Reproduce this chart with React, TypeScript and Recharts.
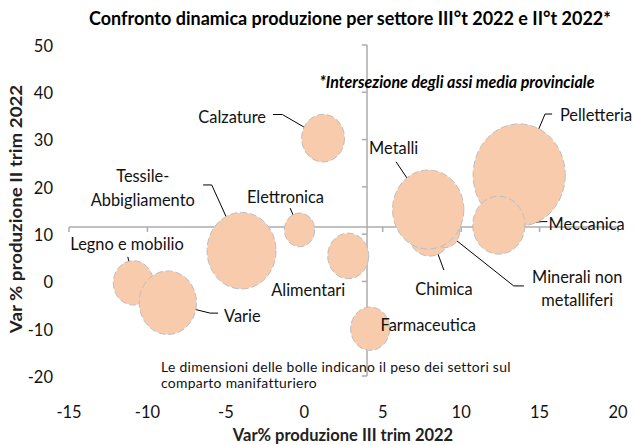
import React from 'react'
import { ScatterChart, Scatter, XAxis, YAxis, ZAxis, ReferenceLine, ReferenceDot } from 'recharts'

const FONT = 'Lato, "Open Sans", sans-serif'
const STRETCH = 1.1 // the original picture is slightly stretched vertically

// draw order: later sectors sit on top of earlier ones
const sectors = ['Legno e mobilio', 'Varie', 'Tessile-Abbigliamento', 'Elettronica', 'Calzature', 'Alimentari', 'Farmaceutica', 'Chimica', 'Minerali non metalliferi', 'Metalli', 'Pelletteria', 'Meccanica']
const varIIIt = [-10.9, -8.7, -4.0, -0.3, 1.2, 2.8, 4.2, 8.0, 9.0, 7.9, 13.7, 12.4]
const varIIt = [-0.3, -4.5, 6.5, 10.9, 30.3, 5.4, -10.0, 10.5, 10.5, 15.2, 22.5, 11.9]
const weights = [4.0, 8.2, 11.9, 2.3, 4.6, 4.2, 3.8, 4.8, 2.0, 12.7, 21.2, 6.8]

const labelLines = [['Legno e mobilio'], ['Varie'], ['Tessile-', 'Abbigliamento'], ['Elettronica'], ['Calzature'], ['Alimentari'], ['Farmaceutica'], ['Chimica'], ['Minerali non', 'metalliferi'], ['Metalli'], ['Pelletteria'], ['Meccanica']]
const labelX = [-11.3, -3.95, -10.3, -1.2, -4.6, 0.25, 7.9, 8.9, 17.4, 5.7, 18.6, 18.0]
const labelY = [8.1, -7.1, 19.9, 18.1, 35.0, -1.65, -9.0, -1.45, -1.28, 28.3, 35.4, 12.4]
// leader line points on the label side; the line then runs to the bubble centre
const leaderFrom: number[][][] = [
  [[-11.25, 5.2]],
  [[-5.5, -6.7], [-6.0, -6.7]],
  [[-6.45, 20.4], [-5.9, 20.4]],
  [[-0.9, 15.5]],
  [[-2.0, 35.3], [-1.4, 35.3]],
  [],
  [],
  [[8.9, 2.4]],
  [[14.0, -0.95], [13.35, -0.95]],
  [[5.85, 25.3]],
  [[15.8, 35.4], [15.35, 35.4]],
  [[15.5, 12.65], [15.15, 12.65]],
]

// provincial mean = axes intersection
const meanX = 4.0
const meanY = 11.5

const xTicks = [-15, -10, -5, 0, 5, 10, 15, 20]
const yTicks = [-20, -10, 0, 10, 20, 30, 40, 50]

const Bubble = (p: any) => {
  const r = p.width ? p.width / 2 : Math.sqrt(p.size / Math.PI)
  return (
    <ellipse cx={p.cx} cy={p.cy} rx={r} ry={r * 1.11}
      fill="#f8cbad" stroke="#bdbdbd" strokeWidth={1} strokeDasharray="7 3" />
  )
}

const makeLabel = (lines: string[]) => (p: any) => (
  <g transform={`translate(${p.cx},${p.cy}) scale(1,${STRETCH})`}>
    <text textAnchor="middle" fontFamily={FONT} fontSize={16.4} fill="#111">
      {lines.map((l, i) => (
        <tspan key={i} x={0} y={(i - (lines.length - 1) / 2) * 23.5 / STRETCH} dominantBaseline="central">{l}</tspan>
      ))}
    </text>
  </g>
)

const Tick = (p: any) => (
  <g transform={`translate(${p.x},${p.y}) scale(1,${STRETCH})`}>
    <text textAnchor={p.textAnchor} fontFamily={FONT} fontSize={16.5} fill="#111" dominantBaseline="central">
      {p.payload.value}
    </text>
  </g>
)

const sy = `scale(1, ${STRETCH})`

export default function App() {
  const data = sectors.map((name, i) => ({ name, x: varIIIt[i], y: varIIt[i], z: weights[i] }))
  const leaders = sectors.flatMap((_, i) => {
    const pts = [...leaderFrom[i], [varIIIt[i], varIIt[i]]]
    return pts.slice(1).map((b, j) => ({ key: `${i}-${j}`, a: pts[j], b }))
  })

  return (
    <div style={{ position: 'absolute', left: 0, top: 0, width: 634, height: 445, background: '#fff', fontFamily: FONT }}>
      <ScatterChart width={634} height={445} margin={{ top: 45, right: 16, bottom: 29, left: 9 }}>
        <XAxis type="number" dataKey="x" domain={[-15, 20]} ticks={xTicks} axisLine={false} tickLine={false}
          tickSize={0} tickMargin={35} height={40} tick={<Tick />} />
        <YAxis type="number" dataKey="y" domain={[-20, 50]} ticks={yTicks} axisLine={false} tickLine={false}
          tickSize={0} tickMargin={16} width={60} tick={<Tick />} />
        <ZAxis type="number" dataKey="z" domain={[0, 25]} range={[0, Math.PI * 100 * 25]} />

        <ReferenceLine x={meanX} stroke="#adadad" strokeWidth={1.5} />
        <ReferenceLine y={meanY} stroke="#adadad" strokeWidth={1.5} />
        {yTicks.map(t => (
          <ReferenceLine key={'yt' + t} segment={[{ x: meanX - 0.33, y: t }, { x: meanX, y: t }]} stroke="#adadad" strokeWidth={1.5} />
        ))}
        {xTicks.map(t => (
          <ReferenceLine key={'xt' + t} segment={[{ x: t, y: meanY }, { x: t, y: meanY - 1.05 }]} stroke="#adadad" strokeWidth={1.5} ifOverflow="visible" />
        ))}

        <Scatter data={data} shape={<Bubble />} isAnimationActive={false} />

        {leaders.map(l => (
          <ReferenceLine key={'ld' + l.key} segment={[{ x: l.a[0], y: l.a[1] }, { x: l.b[0], y: l.b[1] }]} stroke="#000" strokeWidth={1} ifOverflow="visible" />
        ))}
        {sectors.map((s, i) => (
          <ReferenceDot key={'lb' + s} x={labelX[i]} y={labelY[i]} r={0} shape={makeLabel(labelLines[i])} ifOverflow="visible" />
        ))}
      </ScatterChart>

      <div style={{ position: 'absolute', left: 350, top: 17, transform: `translate(-50%, -50%) ${sy}`, whiteSpace: 'nowrap', fontWeight: 700, fontSize: 18, color: '#000' }}>
        Confronto dinamica produzione per settore III°t 2022 e II°t 2022*
      </div>
      <div style={{ position: 'absolute', left: 457, top: 81, transform: `translate(-50%, -50%) ${sy}`, whiteSpace: 'nowrap', fontWeight: 700, fontStyle: 'italic', fontSize: 16, color: '#000' }}>
        *Intersezione degli assi media provinciale
      </div>
      <div style={{ position: 'absolute', left: 161, top: 358.5, whiteSpace: 'nowrap', fontSize: 13.9, letterSpacing: 0.3, lineHeight: '16.7px', color: '#111' }}>
        <div>Le dimensioni delle bolle indicano il peso dei settori sul</div>
        <div>comparto manifatturiero</div>
      </div>
      <div style={{ position: 'absolute', left: 343, top: 434.5, transform: 'translate(-50%, -50%)', whiteSpace: 'nowrap', fontWeight: 700, fontSize: 16.5, lineHeight: 1, color: '#222' }}>
        Var% produzione III trim 2022
      </div>
      <div style={{ position: 'absolute', left: 15, top: 209, transform: 'translate(-50%, -50%) rotate(-90deg) scale(1.1, 1)', whiteSpace: 'nowrap', fontWeight: 700, fontSize: 17, color: '#222' }}>
        Var % produzione II trim 2022
      </div>
    </div>
  )
}
